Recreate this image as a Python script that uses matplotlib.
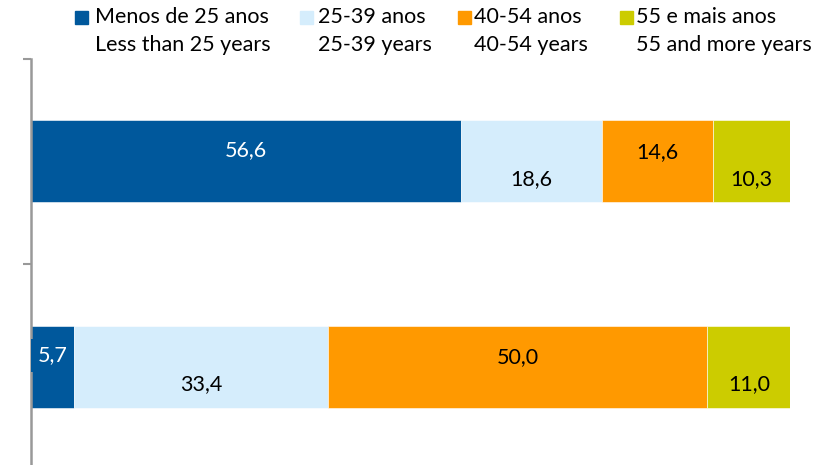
import numpy as np
import matplotlib
matplotlib.use("Agg")
import matplotlib.pyplot as plt
from matplotlib.patches import Rectangle

plt.rcParams["font.family"] = ["Lato", "DejaVu Sans"]

groups = ["A", "B"]
labels_pt = ["Menos de 25 anos", "25-39 anos", "40-54 anos", "55 e mais anos"]
labels_en = ["Less than 25 years", "25-39 years", "40-54 years", "55 and more years"]
under_25 = [56.6, 5.7]
from_25_39 = [18.6, 33.4]
from_40_54 = [14.6, 50.0]
over_55 = [10.3, 11.0]

colors = ["#00589C", "#D5EDFC", "#FF9900", "#CCCC00"]
text_colors = ["white", "black", "black", "black"]
# Excel-style staggered labels: up for 1st/3rd segment, down for 2nd/4th
label_shift = [-0.055, 0.085, -0.045, 0.085]

axis_color = "#999999"


def main():
    fig = plt.figure(figsize=(8.28, 4.65), dpi=100)
    ax = fig.add_axes([31 / 828, -4 / 465, 759 / 828, 410 / 465])

    series = [under_25, from_25_39, from_40_54, over_55]
    y = np.arange(len(groups))
    left = np.zeros(len(groups))
    for i, values in enumerate(series):
        values = np.array(values)
        ax.barh(y, values, left=left, height=0.4, color=colors[i],
                edgecolor="white", linewidth=0.4)
        for j, v in enumerate(values):
            txt = "{:.1f}".format(v).replace(".", ",")
            kw = {}
            if i == 0 and v < 8:
                kw["bbox"] = dict(boxstyle="square,pad=0.3", fc=colors[0], ec="none")
            ax.text(left[j] + v / 2, y[j] + label_shift[i], txt,
                    ha="center", va="center", fontsize=15.5,
                    color=text_colors[i], **kw)
        left += values

    ax.set_xlim(0, 100)
    ax.set_ylim(1.5, -0.5)
    ax.set_yticks([-0.5, 0.5, 1.5])
    ax.set_yticklabels([])
    ax.set_xticks([])
    for s in ["top", "right", "bottom"]:
        ax.spines[s].set_visible(False)
    ax.spines["left"].set_color(axis_color)
    ax.spines["left"].set_linewidth(1.8)
    ax.tick_params(axis="y", length=6, width=1.5, color=axis_color)

    # legend drawn by hand, two lines per entry
    sq_x = [75, 300, 458, 620]
    tx_x = [95, 318, 474, 636]
    for i in range(4):
        fig.patches.append(Rectangle((sq_x[i] / 828, 1 - 24 / 465), 13 / 828, 13 / 465,
                                     transform=fig.transFigure, color=colors[i]))
        fig.text(tx_x[i] / 828, 1 - 17 / 465, labels_pt[i], ha="left", va="center",
                 fontsize=15.5)
        fig.text(tx_x[i] / 828, 1 - 45 / 465, labels_en[i], ha="left", va="center",
                 fontsize=15.5)

    fig.savefig("out.png", dpi=100)


if __name__ == "__main__":
    main()
